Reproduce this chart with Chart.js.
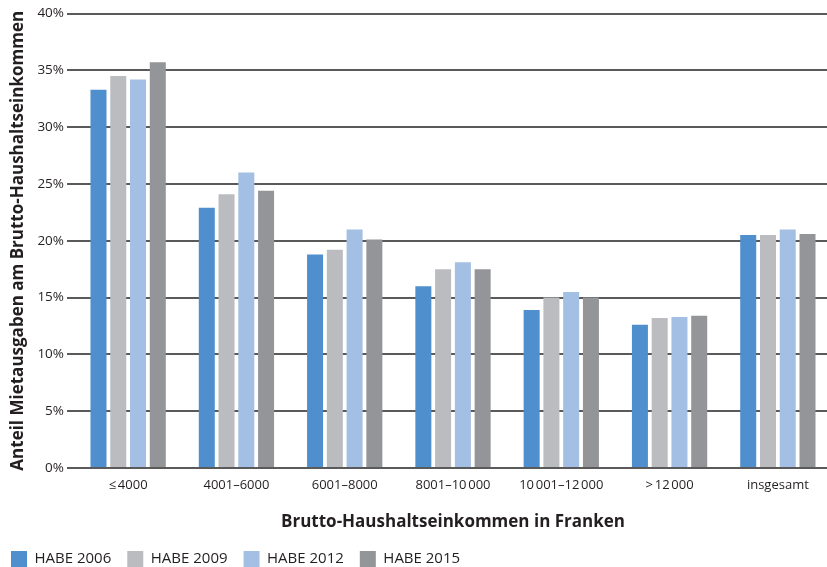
<!DOCTYPE html>
<html>
<head>
<meta charset="utf-8">
<script src="https://cdn.jsdelivr.net/npm/chart.js@4.4.1/dist/chart.umd.min.js"></script>
<style>
  html, body { margin: 0; padding: 0; background: #fff; overflow: hidden; }
  #wrap { position: relative; margin-left: -13px; width: 845px; height: 577px; }
</style>
</head>
<body>
<div id="wrap"><canvas id="c"></canvas></div>
<script>
// Income brackets (gross household income, CHF per month)
const categories = ['\u2264\u202F4000', '4001\u20136000', '6001\u20138000', '8001\u201310\u202F000',
                    '10\u202F001\u201312\u202F000', '>\u202F12\u202F000', 'insgesamt'];

// Share of rent in gross household income, in percent
const habe2006 = [33.3, 22.9, 18.8, 16.0, 13.9, 12.6, 20.5];
const habe2009 = [34.5, 24.1, 19.2, 17.5, 15.0, 13.2, 20.5];
const habe2012 = [34.2, 26.0, 21.0, 18.1, 15.5, 13.3, 21.0];
const habe2015 = [35.7, 24.4, 20.1, 17.5, 15.0, 13.4, 20.6];

const seriesNames = ['HABE 2006', 'HABE 2009', 'HABE 2012', 'HABE 2015'];
const seriesColors = ['#4f8fcd', '#bbbcc0', '#a3bfe3', '#949599'];

const yTicks = [0, 5, 10, 15, 20, 25, 30, 35, 40];

const FONT = '"Open Sans", "Noto Sans", sans-serif';
const TEXT = '#231f20';

const data = {
  labels: categories,
  datasets: [habe2006, habe2009, habe2012, habe2015].map((vals, i) => ({
    label: seriesNames[i],
    data: vals,
    backgroundColor: seriesColors[i],
    borderWidth: 0,
    barPercentage: 0.81,
    categoryPercentage: 0.73
  }))
};

new Chart(document.getElementById('c'), {
  type: 'bar',
  data,
  options: {
    responsive: true,
    maintainAspectRatio: false,
    animation: false,
    layout: { padding: { top: 13.5, left: 8, right: 0, bottom: 0 } },
    plugins: {
      tooltip: { enabled: false },
      legend: {
        position: 'bottom',
        align: 'start',
        labels: {
          boxWidth: 16,
          boxHeight: 16,
          padding: 16,
          color: TEXT,
          font: { family: FONT, size: 15 }
        }
      }
    },
    scales: {
      x: {
        grid: { display: false, drawTicks: false },
        border: { display: false },
        ticks: {
          color: TEXT,
          font: { family: FONT, size: 13 },
          padding: 9,
          maxRotation: 0
        },
        title: {
          display: true,
          text: 'Brutto-Haushaltseinkommen in Franken',
          color: TEXT,
          font: { family: FONT, size: 17, weight: 'bold' },
          padding: { top: 10, bottom: 3 }
        }
      },
      y: {
        min: 0,
        max: 40,
        afterBuildTicks: (axis) => { axis.ticks = yTicks.map(v => ({ value: v })); },
        grid: {
          color: '#5a5a5a',
          lineWidth: 2,
          drawTicks: true,
          tickLength: 7
        },
        border: { display: false },
        ticks: {
          color: TEXT,
          font: { family: FONT, size: 13.5 },
          padding: 3,
          callback: (v) => v + '%'
        },
        title: {
          display: true,
          text: 'Anteil Mietausgaben am Brutto-Haushaltseinkommen',
          color: TEXT,
          font: { family: FONT, size: 17, weight: 'bold' },
          padding: { top: 13, bottom: 6 }
        }
      }
    }
  }
});
</script>
</body>
</html>
